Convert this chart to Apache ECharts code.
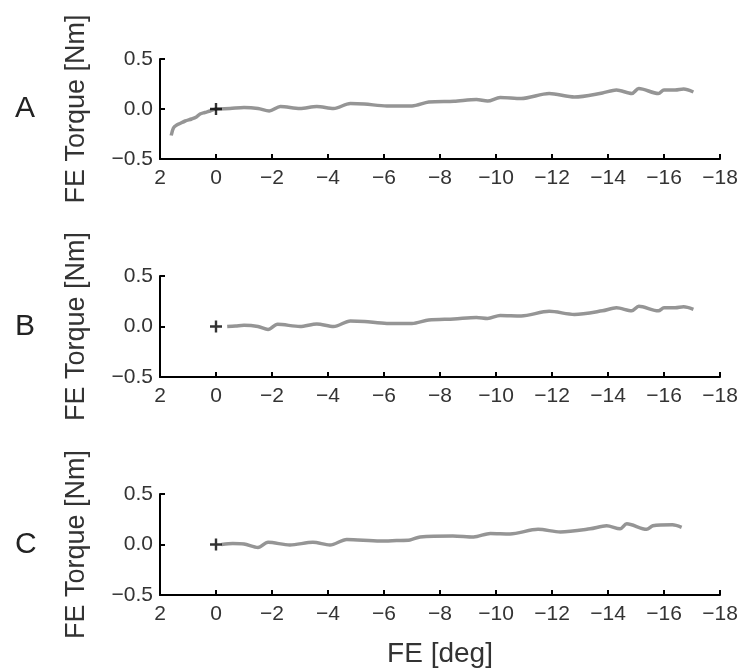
<!DOCTYPE html>
<html><head><meta charset="utf-8">
<script src="https://cdn.jsdelivr.net/npm/echarts@6/dist/echarts.min.js"></script>
<style>html,body{margin:0;padding:0;background:#fff}#c{width:745px;height:670px}</style>
</head><body><div id="c"></div>
<script>
const panelLabels = ['A', 'B', 'C'];
const xTicks = { min: -18, max: 2, interval: 2 };
const yTicks = { min: -0.5, max: 0.5, interval: 0.5 };
const yAxisTitle = 'FE Torque [Nm]';
const xAxisTitle = 'FE [deg]';
const startPoint = [0, 0];

const feA = [1.6,1.52,1.4,1.29,1.1,0.87,0.7,0.57,0.4,0.21,0,-0.5,-1.0,-1.5,-1.9,-2.3,-3.0,-3.6,-4.2,-4.8,-5.3,-6.1,-7.0,-7.6,-8.5,-9.3,-9.7,-10.15,-10.9,-11.9,-12.8,-13.8,-14.3,-14.85,-15.1,-15.8,-16.0,-16.4,-16.7,-17.05];
const torqueA = [-0.265,-0.19,-0.16,-0.145,-0.12,-0.1,-0.08,-0.05,-0.035,-0.02,0,0.005,0.015,0.005,-0.02,0.025,0.005,0.025,0.005,0.055,0.05,0.03,0.03,0.07,0.078,0.095,0.08,0.115,0.105,0.155,0.12,0.16,0.19,0.155,0.205,0.155,0.19,0.19,0.2,0.17];

const feB = [-0.4,-0.7,-1.0,-1.5,-1.86,-2.2,-3.0,-3.6,-4.2,-4.8,-5.3,-6.1,-7.0,-7.6,-8.5,-9.3,-9.7,-10.15,-10.9,-11.9,-12.8,-13.8,-14.3,-14.85,-15.1,-15.8,-16.0,-16.4,-16.7,-17.05];
const torqueB = [0,0.005,0.012,0,-0.03,0.022,0,0.025,0,0.055,0.05,0.03,0.03,0.065,0.075,0.09,0.08,0.11,0.105,0.15,0.12,0.155,0.185,0.155,0.2,0.155,0.185,0.185,0.195,0.17];

const feC = [-0.2,-0.6,-1.0,-1.5,-1.86,-2.64,-3.46,-4.07,-4.67,-5.86,-6.45,-6.93,-7.29,-8.46,-9.2,-9.8,-10.5,-11.5,-12.3,-13.36,-13.95,-14.43,-14.67,-15.38,-15.6,-16.3,-16.63];
const torqueC = [0,0.01,0.005,-0.03,0.022,-0.005,0.022,-0.005,0.05,0.035,0.04,0.045,0.075,0.085,0.075,0.11,0.105,0.15,0.125,0.155,0.185,0.155,0.205,0.15,0.185,0.195,0.17];

const panels = [[feA, torqueA], [feB, torqueB], [feC, torqueC]];
const gridTops = [59, 276, 494];
const gridHeights = [100, 101, 101];
const FONT = '"Liberation Sans", Arial, Helvetica, sans-serif';
const minus = v => String(v).replace('-', '\u2212');
const fmtY = v => minus(v.toFixed(1));

const chart = echarts.init(document.getElementById('c'));
const grid = [], xAxis = [], yAxis = [], series = [], graphic = [];
panels.forEach((p, i) => {
  grid.push({ left: 160, right: 25, top: gridTops[i], height: gridHeights[i] });
  xAxis.push({
    gridIndex: i, type: 'value', inverse: true, min: xTicks.min, max: xTicks.max, interval: xTicks.interval,
    axisLine: { show: true, onZero: false, lineStyle: { color: '#000', width: 2 } },
    axisTick: { show: true, inside: true, length: 5, lineStyle: { color: '#000', width: 2 } },
    splitLine: { show: false },
    axisLabel: { formatter: minus, color: '#333', fontSize: 21, fontFamily: FONT, margin: 9 },
    name: i === 2 ? xAxisTitle : '', nameLocation: 'middle', nameGap: 45,
    nameTextStyle: { fontSize: 28, color: '#333', fontFamily: FONT }
  });
  yAxis.push({
    gridIndex: i, type: 'value', min: yTicks.min, max: yTicks.max, interval: yTicks.interval,
    axisLine: { show: true, onZero: false, lineStyle: { color: '#000', width: 2 } },
    axisTick: { show: true, inside: true, length: 5, lineStyle: { color: '#000', width: 2 } },
    splitLine: { show: false },
    axisLabel: { formatter: fmtY, color: '#333', fontSize: 21, fontFamily: FONT, margin: 7 },
    name: yAxisTitle, nameLocation: 'middle', nameGap: 70, nameRotate: 90,
    nameTextStyle: { fontSize: 27, color: '#333', fontFamily: FONT }
  });
  series.push({
    type: 'line', xAxisIndex: i, yAxisIndex: i, showSymbol: false, smooth: 0.3,
    lineStyle: { color: '#959595', width: 3.5 },
    data: p[0].map((x, k) => [x, p[1][k]]), z: 2
  });
  series.push({
    type: 'scatter', xAxisIndex: i, yAxisIndex: i, symbol: 'path://M4,0H6V4H10V6H6V10H4V6H0V4H4Z',
    symbolSize: 12, itemStyle: { color: '#000' }, data: [startPoint], z: 5, silent: true
  });
  graphic.push({
    type: 'text', left: 15, top: gridTops[i] + gridHeights[i] / 2 - 15,
    style: { text: panelLabels[i], fontSize: 30, fill: '#222', fontFamily: FONT }
  });
});
chart.setOption({ animation: false, grid, xAxis, yAxis, series, graphic });
</script></body></html>
